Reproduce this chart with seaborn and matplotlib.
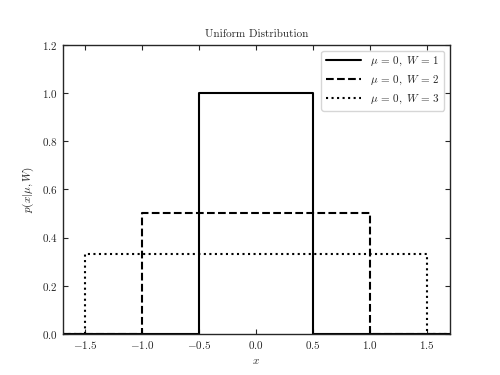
import matplotlib
matplotlib.use("Agg")
import matplotlib.pyplot as plt
import seaborn as sns
import pandas as pd

# datos: distribucion uniforme, mu = 0, distintos anchos W
mu = 0
anchos = [1, 2, 3]
alturas = [1.0, 0.5, 0.3333]
estilos = ['-', '--', ':']
x_min, x_max = -1.7, 1.7

sns.set_style("ticks")
plt.rcParams.update({
    'font.family': 'serif',
    'font.serif': ['cmr10', 'DejaVu Serif'],
    'mathtext.fontset': 'cm',
    'axes.formatter.use_mathtext': True,
    'font.size': 8,
    'xtick.direction': 'in',
    'ytick.direction': 'in',
    'xtick.top': True,
    'ytick.right': True,
    'axes.linewidth': 1.0,
})

fig, ax = plt.subplots(figsize=(5, 3.75), dpi=100)

for W, h, ls in zip(anchos, alturas, estilos):
    a, b = mu - W / 2, mu + W / 2
    df = pd.DataFrame({
        'x': [x_min, a, a, b, b, x_max],
        'p': [0, 0, h, h, 0, 0],
    })
    sns.lineplot(data=df, x='x', y='p', ax=ax, color='black', linestyle=ls,
                 linewidth=1.5, sort=False, estimator=None,
                 label=r'$\mu\,=\,%i,\ W\,=\,%i$' % (mu, W))

ax.set_xlim(x_min, x_max)
ax.set_ylim(0, 1.2)
ax.set_xlabel('$x$')
ax.set_ylabel(r'$p(x|\mu, W)$')
ax.set_title('Uniform Distribution', fontsize=8)
ax.legend(loc='upper right', fontsize=8, handlelength=3.2)

fig.subplots_adjust(left=0.125, right=0.9, bottom=0.11, top=0.88)
fig.savefig('out.png', dpi=100)
